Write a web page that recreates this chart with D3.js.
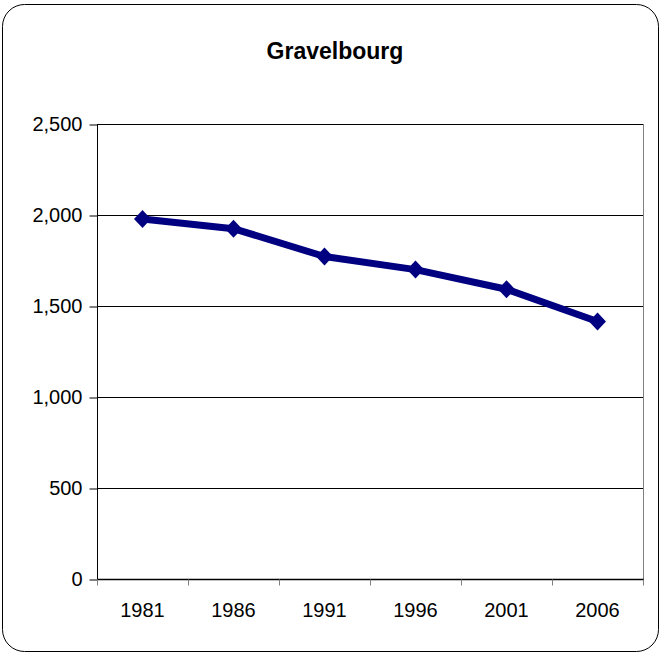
<!DOCTYPE html>
<html>
<head>
<meta charset="utf-8">
<script src="https://cdn.jsdelivr.net/npm/d3@7"></script>
<style>
  body { margin: 0; background: #fff; }
  svg { display: block; font-family: "Liberation Sans", Arial, sans-serif; }
</style>
</head>
<body>
<script>
const years = ["1981", "1986", "1991", "1996", "2001", "2006"];
const population = [1978, 1925, 1772, 1700, 1592, 1415];
const yTicks = [0, 500, 1000, 1500, 2000, 2500];
const title = "Gravelbourg";

const width = 661;
const height = 656;
const plot = { left: 97, right: 643, top: 124, bottom: 579 };

const svg = d3.select("body")
  .append("svg")
  .attr("width", width)
  .attr("height", height);

// outer chart border
svg.append("rect")
  .attr("x", 2.5)
  .attr("y", 4.5)
  .attr("width", 656)
  .attr("height", 647)
  .attr("rx", 22)
  .attr("fill", "white")
  .attr("stroke", "black")
  .attr("stroke-width", 1);

svg.append("text")
  .attr("x", 335)
  .attr("y", 59)
  .attr("text-anchor", "middle")
  .attr("font-size", "23px")
  .attr("font-weight", "bold")
  .text(title);

const x = d3.scaleBand()
  .domain(years)
  .range([plot.left, plot.right]);

const y = d3.scaleLinear()
  .domain([0, 2500])
  .range([plot.bottom, plot.top]);

// gridlines
svg.append("g")
  .selectAll("line")
  .data(yTicks.filter(d => d > 0))
  .join("line")
  .attr("x1", plot.left)
  .attr("x2", plot.right)
  .attr("y1", d => Math.round(y(d)) + 0.5)
  .attr("y2", d => Math.round(y(d)) + 0.5)
  .attr("stroke", "black")
  .attr("stroke-width", 1);

// right border of plot area
svg.append("line")
  .attr("x1", plot.right + 0.5)
  .attr("x2", plot.right + 0.5)
  .attr("y1", plot.top)
  .attr("y2", plot.bottom)
  .attr("stroke", "#808080");

// y axis
const yAxis = svg.append("g")
  .attr("transform", `translate(${plot.left + 0.5},0.5)`)
  .call(d3.axisLeft(y).tickValues(yTicks).tickFormat(d3.format(",")).tickSize(8).tickPadding(7));
yAxis.select(".domain").attr("stroke", "black").attr("d", `M0,${plot.top}V${plot.bottom}`);
yAxis.selectAll("text").attr("font-size", "20px").attr("fill", "black")
  .attr("font-family", "Liberation Sans, Arial, sans-serif");

// x axis with boundary ticks
const xAxis = svg.append("g")
  .attr("transform", `translate(0,${plot.bottom + 0.5})`);
xAxis.append("line")
  .attr("x1", plot.left)
  .attr("x2", plot.right + 1)
  .attr("stroke", "black")
  .attr("stroke-width", 1.5);
const boundaries = years.map(d => x(d)).concat([plot.right]);
xAxis.selectAll(".tick")
  .data(boundaries)
  .join("line")
  .attr("x1", d => Math.round(d) + 0.5)
  .attr("x2", d => Math.round(d) + 0.5)
  .attr("y1", 0)
  .attr("y2", 6)
  .attr("stroke", "#808080");
xAxis.selectAll("text")
  .data(years)
  .join("text")
  .attr("x", d => x(d) + x.bandwidth() / 2)
  .attr("y", 37.5)
  .attr("text-anchor", "middle")
  .attr("font-size", "20px")
  .text(d => d);

// series line
const line = d3.line()
  .x((d, i) => x(years[i]) + x.bandwidth() / 2)
  .y(d => y(d));

svg.append("path")
  .datum(population)
  .attr("d", line)
  .attr("fill", "none")
  .attr("stroke", "#000080")
  .attr("stroke-width", 7)
  .attr("stroke-linejoin", "round");

svg.append("g")
  .selectAll("path")
  .data(population)
  .join("path")
  .attr("transform", (d, i) => `translate(${x(years[i]) + x.bandwidth() / 2},${y(d)})`)
  .attr("d", "M0,-9L8.5,0L0,9L-8.5,0Z")
  .attr("fill", "#000080");
</script>
</body>
</html>
